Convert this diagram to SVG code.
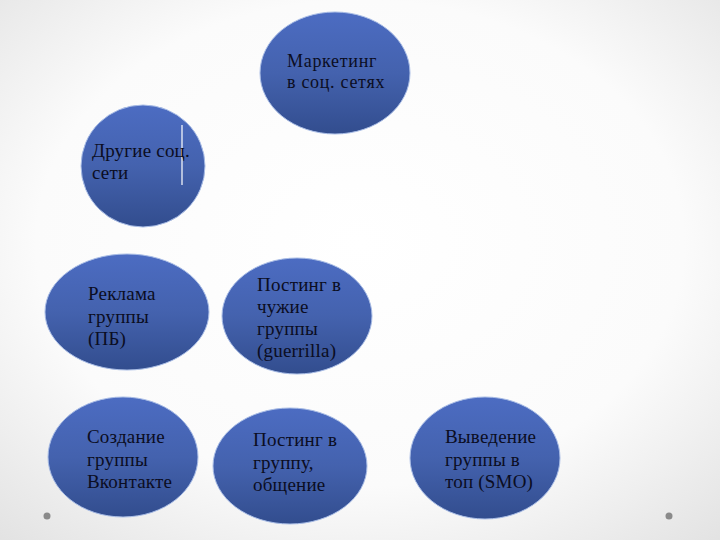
<svg xmlns="http://www.w3.org/2000/svg" width="720" height="540" viewBox="0 0 720 540">
<defs>
<radialGradient id="bg" cx="0.5" cy="0.45" r="0.75">
<stop offset="0" stop-color="#ffffff"/>
<stop offset="0.6" stop-color="#fbfbfb"/>
<stop offset="1" stop-color="#e2e2e2"/>
</radialGradient>
<linearGradient id="blue" x1="0" y1="0" x2="0" y2="1">
<stop offset="0" stop-color="#4c6cc2"/>
<stop offset="0.5" stop-color="#4462ae"/>
<stop offset="1" stop-color="#324d8e"/>
</linearGradient>
</defs>
<style>
.n{fill:url(#blue);stroke:#a9bde6;stroke-width:1}
.t{font-family:"Liberation Serif",serif;font-size:19px;letter-spacing:0.2px;fill:#0b0d22}
.dot{fill:#8a8a8a}
</style>
<rect width="720" height="540" fill="url(#bg)"/>
<g id="connectors"></g>
<g id="marketing">
<ellipse class="n" cx="335" cy="73" rx="75" ry="61"/>
<text class="t" style="font-size:18px;letter-spacing:0.7px"><tspan x="287" y="67">Маркетинг</tspan><tspan x="287" y="88">в соц. сетях</tspan></text>
</g>
<g id="other">
<ellipse class="n" cx="143" cy="166" rx="62" ry="61"/>
<line x1="182" y1="125" x2="182" y2="185" stroke="#ffffff" stroke-width="1.2"/>
<text class="t"><tspan x="92" y="157">Другие соц.</tspan><tspan x="92" y="179">сети</tspan></text>
</g>
<g id="reklama">
<ellipse class="n" cx="127" cy="312" rx="82" ry="58"/>
<text class="t"><tspan x="88" y="300">Реклама</tspan><tspan x="88" y="323">группы</tspan><tspan x="88" y="345">(ПБ)</tspan></text>
</g>
<g id="posting-other">
<ellipse class="n" cx="297" cy="316" rx="75" ry="58"/>
<text class="t"><tspan x="257" y="291">Постинг в</tspan><tspan x="257" y="313">чужие</tspan><tspan x="257" y="335">группы</tspan><tspan x="257" y="357">(guerrilla)</tspan></text>
</g>
<g id="create">
<ellipse class="n" cx="123" cy="457" rx="75" ry="60"/>
<text class="t"><tspan x="87" y="443">Создание</tspan><tspan x="87" y="466">группы</tspan><tspan x="87" y="488">Вконтакте</tspan></text>
</g>
<g id="posting-group">
<ellipse class="n" cx="290" cy="466" rx="77" ry="58"/>
<text class="t"><tspan x="253" y="446">Постинг в</tspan><tspan x="253" y="469">группу,</tspan><tspan x="253" y="491">общение</tspan></text>
</g>
<g id="smo">
<ellipse class="n" cx="485" cy="458" rx="75" ry="61"/>
<text class="t"><tspan x="445" y="443">Выведение</tspan><tspan x="445" y="466">группы в</tspan><tspan x="445" y="488">топ (SMO)</tspan></text>
</g>
<circle class="dot" cx="47" cy="516" r="3.5"/>
<circle class="dot" cx="669" cy="516" r="3.5"/>
</svg>
